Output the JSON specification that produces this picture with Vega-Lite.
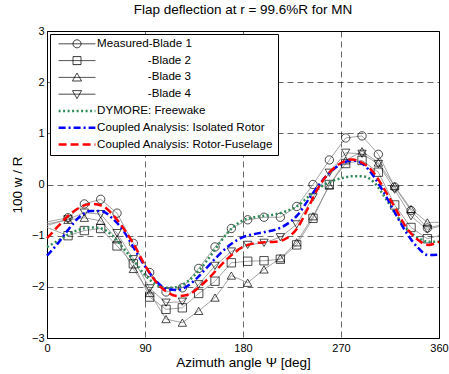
{
  "$schema": "https://vega.github.io/schema/vega-lite/v6.json",
  "width": 392,
  "height": 307,
  "autosize": {"type": "none"},
  "padding": {"left": 47, "top": 31, "right": 10, "bottom": 36},
  "background": "white",
  "config": {
    "font": "Liberation Sans",
    "view": {"stroke": "black", "strokeWidth": 1},
    "axis": {
      "grid": true, "gridColor": "black", "gridDash": [6, 4], "gridWidth": 0.6, "gridOpacity": 1,
      "ticks": false, "domainColor": "black", "domainWidth": 1,
      "labelFont": "Liberation Sans", "labelFontSize": 11, "labelColor": "black",
      "titleFont": "Liberation Sans", "titleFontSize": 13.5, "titleFontWeight": "normal", "titleColor": "black",
      "labelFlush": false
    }
  },
  "title": {"text": "Flap deflection at r = 99.6%R for MN", "fontSize": 13.5, "fontWeight": "normal", "font": "Liberation Sans", "color": "black", "offset": 9},
  "data": {"values": [
    {"psi":0,"series":"Measured-Blade 1","w":-0.73},{"psi":19.3,"series":"Measured-Blade 1","w":-0.65},{"psi":34.3,"series":"Measured-Blade 1","w":-0.38},{"psi":49.3,"series":"Measured-Blade 1","w":-0.29},{"psi":64.3,"series":"Measured-Blade 1","w":-0.56},{"psi":79.3,"series":"Measured-Blade 1","w":-1.15},{"psi":94.3,"series":"Measured-Blade 1","w":-1.72},{"psi":109.3,"series":"Measured-Blade 1","w":-2.1},{"psi":124.3,"series":"Measured-Blade 1","w":-2.02},{"psi":139.3,"series":"Measured-Blade 1","w":-1.64},{"psi":154.3,"series":"Measured-Blade 1","w":-1.22},{"psi":169.3,"series":"Measured-Blade 1","w":-0.86},{"psi":184.3,"series":"Measured-Blade 1","w":-0.69},{"psi":199.3,"series":"Measured-Blade 1","w":-0.64},{"psi":214.3,"series":"Measured-Blade 1","w":-0.64},{"psi":229.3,"series":"Measured-Blade 1","w":-0.43},{"psi":244.3,"series":"Measured-Blade 1","w":0.0},{"psi":259.3,"series":"Measured-Blade 1","w":0.48},{"psi":274.3,"series":"Measured-Blade 1","w":0.91},{"psi":289.3,"series":"Measured-Blade 1","w":0.95},{"psi":304.3,"series":"Measured-Blade 1","w":0.59},{"psi":319.3,"series":"Measured-Blade 1","w":-0.05},{"psi":334.3,"series":"Measured-Blade 1","w":-0.51},{"psi":349.3,"series":"Measured-Blade 1","w":-0.85},{"psi":360,"series":"Measured-Blade 1","w":-0.8},
    {"psi":0,"series":"-Blade 2","w":-0.84},{"psi":19.3,"series":"-Blade 2","w":-1.0},{"psi":34.3,"series":"-Blade 2","w":-0.9},{"psi":49.3,"series":"-Blade 2","w":-0.86},{"psi":64.3,"series":"-Blade 2","w":-1.2},{"psi":79.3,"series":"-Blade 2","w":-1.55},{"psi":94.3,"series":"-Blade 2","w":-2.2},{"psi":109.3,"series":"-Blade 2","w":-2.44},{"psi":124.3,"series":"-Blade 2","w":-2.41},{"psi":139.3,"series":"-Blade 2","w":-2.13},{"psi":154.3,"series":"-Blade 2","w":-1.89},{"psi":169.3,"series":"-Blade 2","w":-1.53},{"psi":184.3,"series":"-Blade 2","w":-1.5},{"psi":199.3,"series":"-Blade 2","w":-1.49},{"psi":214.3,"series":"-Blade 2","w":-1.46},{"psi":229.3,"series":"-Blade 2","w":-1.18},{"psi":244.3,"series":"-Blade 2","w":-0.66},{"psi":259.3,"series":"-Blade 2","w":0.0},{"psi":274.3,"series":"-Blade 2","w":0.41},{"psi":289.3,"series":"-Blade 2","w":0.47},{"psi":304.3,"series":"-Blade 2","w":0.24},{"psi":319.3,"series":"-Blade 2","w":-0.4},{"psi":334.3,"series":"-Blade 2","w":-0.84},{"psi":349.3,"series":"-Blade 2","w":-1.06},{"psi":360,"series":"-Blade 2","w":-1.0},
    {"psi":0,"series":"-Blade 3","w":-0.77},{"psi":19.3,"series":"-Blade 3","w":-0.69},{"psi":34.3,"series":"-Blade 3","w":-0.65},{"psi":49.3,"series":"-Blade 3","w":-0.71},{"psi":64.3,"series":"-Blade 3","w":-1.07},{"psi":79.3,"series":"-Blade 3","w":-1.65},{"psi":94.3,"series":"-Blade 3","w":-2.12},{"psi":109.3,"series":"-Blade 3","w":-2.63},{"psi":124.3,"series":"-Blade 3","w":-2.7},{"psi":139.3,"series":"-Blade 3","w":-2.47},{"psi":154.3,"series":"-Blade 3","w":-2.21},{"psi":169.3,"series":"-Blade 3","w":-1.78},{"psi":184.3,"series":"-Blade 3","w":-1.92},{"psi":199.3,"series":"-Blade 3","w":-1.66},{"psi":214.3,"series":"-Blade 3","w":-1.44},{"psi":229.3,"series":"-Blade 3","w":-1.13},{"psi":244.3,"series":"-Blade 3","w":-0.62},{"psi":259.3,"series":"-Blade 3","w":-0.02},{"psi":274.3,"series":"-Blade 3","w":0.47},{"psi":289.3,"series":"-Blade 3","w":0.65},{"psi":304.3,"series":"-Blade 3","w":0.43},{"psi":319.3,"series":"-Blade 3","w":-0.03},{"psi":334.3,"series":"-Blade 3","w":-0.48},{"psi":349.3,"series":"-Blade 3","w":-0.74},{"psi":360,"series":"-Blade 3","w":-0.74},
    {"psi":0,"series":"-Blade 4","w":-0.8},{"psi":19.3,"series":"-Blade 4","w":-0.68},{"psi":34.3,"series":"-Blade 4","w":-0.55},{"psi":49.3,"series":"-Blade 4","w":-0.58},{"psi":64.3,"series":"-Blade 4","w":-0.95},{"psi":79.3,"series":"-Blade 4","w":-1.46},{"psi":94.3,"series":"-Blade 4","w":-2.03},{"psi":109.3,"series":"-Blade 4","w":-2.31},{"psi":124.3,"series":"-Blade 4","w":-2.29},{"psi":139.3,"series":"-Blade 4","w":-1.95},{"psi":154.3,"series":"-Blade 4","w":-1.59},{"psi":169.3,"series":"-Blade 4","w":-1.31},{"psi":184.3,"series":"-Blade 4","w":-1.18},{"psi":199.3,"series":"-Blade 4","w":-1.14},{"psi":214.3,"series":"-Blade 4","w":-1.03},{"psi":229.3,"series":"-Blade 4","w":-0.78},{"psi":244.3,"series":"-Blade 4","w":-0.25},{"psi":259.3,"series":"-Blade 4","w":0.23},{"psi":274.3,"series":"-Blade 4","w":0.62},{"psi":289.3,"series":"-Blade 4","w":0.6},{"psi":304.3,"series":"-Blade 4","w":0.4},{"psi":319.3,"series":"-Blade 4","w":-0.1},{"psi":334.3,"series":"-Blade 4","w":-0.62},{"psi":349.3,"series":"-Blade 4","w":-0.88},{"psi":360,"series":"-Blade 4","w":-0.82},
    {"psi":0,"series":"DYMORE: Freewake","w":-1.22},{"psi":10,"series":"DYMORE: Freewake","w":-1.1},{"psi":20,"series":"DYMORE: Freewake","w":-0.97},{"psi":30,"series":"DYMORE: Freewake","w":-0.88},{"psi":40,"series":"DYMORE: Freewake","w":-0.84},{"psi":50,"series":"DYMORE: Freewake","w":-0.86},{"psi":60,"series":"DYMORE: Freewake","w":-1.0},{"psi":70,"series":"DYMORE: Freewake","w":-1.24},{"psi":80,"series":"DYMORE: Freewake","w":-1.5},{"psi":90,"series":"DYMORE: Freewake","w":-1.77},{"psi":100,"series":"DYMORE: Freewake","w":-1.95},{"psi":110,"series":"DYMORE: Freewake","w":-2.02},{"psi":120,"series":"DYMORE: Freewake","w":-2.0},{"psi":130,"series":"DYMORE: Freewake","w":-1.88},{"psi":140,"series":"DYMORE: Freewake","w":-1.67},{"psi":150,"series":"DYMORE: Freewake","w":-1.4},{"psi":160,"series":"DYMORE: Freewake","w":-1.1},{"psi":170,"series":"DYMORE: Freewake","w":-0.85},{"psi":180,"series":"DYMORE: Freewake","w":-0.7},{"psi":190,"series":"DYMORE: Freewake","w":-0.64},{"psi":200,"series":"DYMORE: Freewake","w":-0.61},{"psi":210,"series":"DYMORE: Freewake","w":-0.58},{"psi":220,"series":"DYMORE: Freewake","w":-0.52},{"psi":230,"series":"DYMORE: Freewake","w":-0.42},{"psi":240,"series":"DYMORE: Freewake","w":-0.24},{"psi":250,"series":"DYMORE: Freewake","w":-0.07},{"psi":260,"series":"DYMORE: Freewake","w":0.05},{"psi":270,"series":"DYMORE: Freewake","w":0.12},{"psi":280,"series":"DYMORE: Freewake","w":0.16},{"psi":290,"series":"DYMORE: Freewake","w":0.16},{"psi":300,"series":"DYMORE: Freewake","w":0.05},{"psi":310,"series":"DYMORE: Freewake","w":-0.24},{"psi":320,"series":"DYMORE: Freewake","w":-0.57},{"psi":330,"series":"DYMORE: Freewake","w":-0.86},{"psi":340,"series":"DYMORE: Freewake","w":-1.03},{"psi":350,"series":"DYMORE: Freewake","w":-1.12},{"psi":360,"series":"DYMORE: Freewake","w":-1.12},
    {"psi":0,"series":"Coupled Analysis: Isolated Rotor","w":-1.39},{"psi":10,"series":"Coupled Analysis: Isolated Rotor","w":-1.15},{"psi":20,"series":"Coupled Analysis: Isolated Rotor","w":-0.87},{"psi":30,"series":"Coupled Analysis: Isolated Rotor","w":-0.63},{"psi":40,"series":"Coupled Analysis: Isolated Rotor","w":-0.52},{"psi":50,"series":"Coupled Analysis: Isolated Rotor","w":-0.52},{"psi":60,"series":"Coupled Analysis: Isolated Rotor","w":-0.66},{"psi":70,"series":"Coupled Analysis: Isolated Rotor","w":-0.9},{"psi":80,"series":"Coupled Analysis: Isolated Rotor","w":-1.25},{"psi":90,"series":"Coupled Analysis: Isolated Rotor","w":-1.6},{"psi":100,"series":"Coupled Analysis: Isolated Rotor","w":-1.88},{"psi":110,"series":"Coupled Analysis: Isolated Rotor","w":-2.04},{"psi":120,"series":"Coupled Analysis: Isolated Rotor","w":-2.06},{"psi":130,"series":"Coupled Analysis: Isolated Rotor","w":-1.97},{"psi":140,"series":"Coupled Analysis: Isolated Rotor","w":-1.78},{"psi":150,"series":"Coupled Analysis: Isolated Rotor","w":-1.55},{"psi":160,"series":"Coupled Analysis: Isolated Rotor","w":-1.33},{"psi":170,"series":"Coupled Analysis: Isolated Rotor","w":-1.15},{"psi":180,"series":"Coupled Analysis: Isolated Rotor","w":-1.03},{"psi":190,"series":"Coupled Analysis: Isolated Rotor","w":-0.97},{"psi":200,"series":"Coupled Analysis: Isolated Rotor","w":-0.93},{"psi":210,"series":"Coupled Analysis: Isolated Rotor","w":-0.88},{"psi":220,"series":"Coupled Analysis: Isolated Rotor","w":-0.78},{"psi":230,"series":"Coupled Analysis: Isolated Rotor","w":-0.6},{"psi":240,"series":"Coupled Analysis: Isolated Rotor","w":-0.3},{"psi":250,"series":"Coupled Analysis: Isolated Rotor","w":0.0},{"psi":260,"series":"Coupled Analysis: Isolated Rotor","w":0.24},{"psi":270,"series":"Coupled Analysis: Isolated Rotor","w":0.4},{"psi":280,"series":"Coupled Analysis: Isolated Rotor","w":0.47},{"psi":290,"series":"Coupled Analysis: Isolated Rotor","w":0.4},{"psi":300,"series":"Coupled Analysis: Isolated Rotor","w":0.16},{"psi":310,"series":"Coupled Analysis: Isolated Rotor","w":-0.18},{"psi":320,"series":"Coupled Analysis: Isolated Rotor","w":-0.57},{"psi":330,"series":"Coupled Analysis: Isolated Rotor","w":-0.94},{"psi":340,"series":"Coupled Analysis: Isolated Rotor","w":-1.22},{"psi":350,"series":"Coupled Analysis: Isolated Rotor","w":-1.38},{"psi":360,"series":"Coupled Analysis: Isolated Rotor","w":-1.37},
    {"psi":0,"series":"Coupled Analysis: Rotor-Fuselage","w":-1.05},{"psi":10,"series":"Coupled Analysis: Rotor-Fuselage","w":-0.82},{"psi":20,"series":"Coupled Analysis: Rotor-Fuselage","w":-0.6},{"psi":30,"series":"Coupled Analysis: Rotor-Fuselage","w":-0.45},{"psi":40,"series":"Coupled Analysis: Rotor-Fuselage","w":-0.38},{"psi":50,"series":"Coupled Analysis: Rotor-Fuselage","w":-0.41},{"psi":60,"series":"Coupled Analysis: Rotor-Fuselage","w":-0.58},{"psi":70,"series":"Coupled Analysis: Rotor-Fuselage","w":-0.85},{"psi":80,"series":"Coupled Analysis: Rotor-Fuselage","w":-1.18},{"psi":90,"series":"Coupled Analysis: Rotor-Fuselage","w":-1.58},{"psi":100,"series":"Coupled Analysis: Rotor-Fuselage","w":-1.9},{"psi":110,"series":"Coupled Analysis: Rotor-Fuselage","w":-2.1},{"psi":120,"series":"Coupled Analysis: Rotor-Fuselage","w":-2.18},{"psi":130,"series":"Coupled Analysis: Rotor-Fuselage","w":-2.15},{"psi":140,"series":"Coupled Analysis: Rotor-Fuselage","w":-2.0},{"psi":150,"series":"Coupled Analysis: Rotor-Fuselage","w":-1.8},{"psi":160,"series":"Coupled Analysis: Rotor-Fuselage","w":-1.57},{"psi":170,"series":"Coupled Analysis: Rotor-Fuselage","w":-1.37},{"psi":180,"series":"Coupled Analysis: Rotor-Fuselage","w":-1.22},{"psi":190,"series":"Coupled Analysis: Rotor-Fuselage","w":-1.15},{"psi":200,"series":"Coupled Analysis: Rotor-Fuselage","w":-1.13},{"psi":210,"series":"Coupled Analysis: Rotor-Fuselage","w":-1.12},{"psi":220,"series":"Coupled Analysis: Rotor-Fuselage","w":-1.05},{"psi":230,"series":"Coupled Analysis: Rotor-Fuselage","w":-0.85},{"psi":240,"series":"Coupled Analysis: Rotor-Fuselage","w":-0.45},{"psi":250,"series":"Coupled Analysis: Rotor-Fuselage","w":-0.03},{"psi":260,"series":"Coupled Analysis: Rotor-Fuselage","w":0.25},{"psi":270,"series":"Coupled Analysis: Rotor-Fuselage","w":0.42},{"psi":280,"series":"Coupled Analysis: Rotor-Fuselage","w":0.49},{"psi":290,"series":"Coupled Analysis: Rotor-Fuselage","w":0.42},{"psi":300,"series":"Coupled Analysis: Rotor-Fuselage","w":0.23},{"psi":310,"series":"Coupled Analysis: Rotor-Fuselage","w":-0.1},{"psi":320,"series":"Coupled Analysis: Rotor-Fuselage","w":-0.47},{"psi":330,"series":"Coupled Analysis: Rotor-Fuselage","w":-0.84},{"psi":340,"series":"Coupled Analysis: Rotor-Fuselage","w":-1.07},{"psi":350,"series":"Coupled Analysis: Rotor-Fuselage","w":-1.18},{"psi":360,"series":"Coupled Analysis: Rotor-Fuselage","w":-1.12}
  ]},
  "encoding": {
    "x": {"field": "psi", "type": "quantitative", "scale": {"domain": [0, 360], "nice": false, "zero": false},
      "axis": {"values": [0, 90, 180, 270, 360], "title": "Azimuth angle Ψ [deg]", "labelPadding": 4, "titlePadding": 2}},
    "y": {"field": "w", "type": "quantitative", "scale": {"domain": [-3, 3], "nice": false},
      "axis": {"values": [-3, -2, -1, 0, 1, 2, 3], "title": "100 w / R", "labelPadding": 3, "titlePadding": 7}}
  },
  "layer": [
    {
      "transform": [{"filter": {"field": "series", "oneOf": ["Measured-Blade 1", "-Blade 2", "-Blade 3", "-Blade 4"]}}],
      "mark": {"type": "line", "stroke": "#8c8c8c", "strokeWidth": 0.8},
      "encoding": {"detail": {"field": "series"}}
    },
    {
      "transform": [
        {"filter": {"field": "series", "oneOf": ["Measured-Blade 1", "-Blade 2", "-Blade 3", "-Blade 4"]}},
        {"filter": "datum.psi > 1 && datum.psi < 359"}
      ],
      "mark": {"type": "point", "filled": false, "stroke": "black", "strokeWidth": 0.7, "size": 70, "opacity": 1},
      "encoding": {
        "shape": {"field": "series", "type": "nominal", "legend": null,
          "scale": {"domain": ["Measured-Blade 1", "-Blade 2", "-Blade 3", "-Blade 4"], "range": ["circle", "square", "triangle-up", "triangle-down"]}}
      }
    },
    {
      "transform": [{"filter": {"field": "series", "oneOf": ["DYMORE: Freewake", "Coupled Analysis: Isolated Rotor", "Coupled Analysis: Rotor-Fuselage"]}}],
      "mark": {"type": "line", "strokeWidth": 2.5, "interpolate": "monotone"},
      "encoding": {
        "strokeDash": {"field": "series", "type": "nominal", "legend": null,
          "scale": {"domain": ["DYMORE: Freewake", "Coupled Analysis: Isolated Rotor", "Coupled Analysis: Rotor-Fuselage"], "range": [[2, 2.5], [7, 3, 2, 3], [8, 4]]}},
        "color": {"field": "series", "type": "nominal",
          "scale": {"domain": ["Measured-Blade 1", "-Blade 2", "-Blade 3", "-Blade 4", "DYMORE: Freewake", "Coupled Analysis: Isolated Rotor", "Coupled Analysis: Rotor-Fuselage"],
                    "range": ["black", "black", "black", "black", "#2e8b57", "#0000ff", "#ff0000"]},
          "legend": {
            "title": null, "orient": "top-left", "offset": 3, "padding": 4,
            "strokeColor": "black", "fillColor": "white", "cornerRadius": 0,
            "symbolSize": 64, "symbolOffset": 17.2, "labelOffset": 14.3, "rowPadding": 3.8,
            "labelFont": "Liberation Sans", "labelFontSize": 11.6, "labelColor": "black", "labelLimit": 400,
            "encode": {
              "labels": {
                "update": {
                  "dx": {"signal": "indexof(['-Blade 2','-Blade 3','-Blade 4'], datum.value) >= 0 ? 50.7 : 0"}
                }
              },
              "symbols": {
                "update": {
                  "shape": {"signal": "datum.value == 'Measured-Blade 1' ? 'M-4.6,0L4.6,0M-1,0A1,1 0 1,1 1,0A1,1 0 1,1 -1,0' : datum.value == '-Blade 2' ? 'M-4.6,0L4.6,0M-1,-1L1,-1L1,1L-1,1Z' : datum.value == '-Blade 3' ? 'M-4.6,0L4.6,0M0,-1.1L1.15,0.9L-1.15,0.9Z' : datum.value == '-Blade 4' ? 'M-4.6,0L4.6,0M0,1.1L1.15,-0.9L-1.15,-0.9Z' : 'M-4.6,0L4.6,0'"},
                  "strokeDash": {"signal": "datum.value == 'DYMORE: Freewake' ? [2,2.5] : datum.value == 'Coupled Analysis: Isolated Rotor' ? [7,3,2,3] : datum.value == 'Coupled Analysis: Rotor-Fuselage' ? [8,4] : [1,0]"},
                  "strokeWidth": {"signal": "indexof(['Measured-Blade 1','-Blade 2','-Blade 3','-Blade 4'], datum.value) >= 0 ? 0.8 : 2.5"},
                  "fill": {"value": "transparent"}
                }
              }
            }
          }
        }
      }
    }
  ]
}
